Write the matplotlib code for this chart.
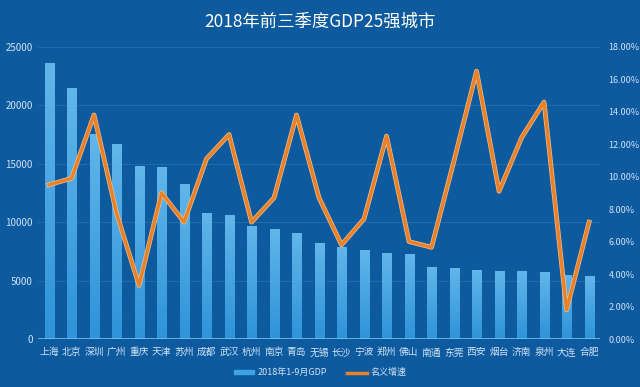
import matplotlib
matplotlib.use('Agg')
import matplotlib.pyplot as plt
import numpy as np

plt.rcParams['font.family'] = ['Noto Sans CJK SC', 'DejaVu Sans']

cities = ['上海', '北京', '深圳', '广州', '重庆', '天津', '苏州', '成都', '武汉', '杭州',
          '南京', '青岛', '无锡', '长沙', '宁波', '郑州', '佛山', '南通', '东莞', '西安',
          '烟台', '济南', '泉州', '大连', '合肥']
gdp = [23600, 21500, 17500, 16700, 14800, 14700, 13300, 10800, 10600, 9700,
       9450, 9050, 8200, 7900, 7600, 7350, 7300, 6200, 6050, 5900,
       5850, 5850, 5700, 5500, 5400]
growth = [9.5, 9.9, 13.8, 7.75, 3.3, 9.0, 7.2, 11.1, 12.6, 7.2,
          8.7, 13.8, 8.7, 5.8, 7.4, 12.5, 6.0, 5.65, 11.0, 16.5,
          9.1, 12.4, 14.6, 1.8, 7.2]

bg = '#0d5a9f'
txt = '#cfe3f5'

fig = plt.figure(figsize=(6.4, 3.87), dpi=100, facecolor=bg)
ax = fig.add_axes([0.059, 0.124, 0.879, 0.755], facecolor=bg)
x = np.arange(len(cities))

bars = ax.bar(x, gdp, width=0.4, color='none', zorder=2)
grad = np.linspace(0, 1, 256).reshape(-1, 1)
cmap = matplotlib.colors.LinearSegmentedColormap.from_list('g', ['#2e93d9', '#62b6ea'])
for b in bars:
    im = ax.imshow(grad, cmap=cmap, aspect='auto', origin='lower',
                   extent=[b.get_x(), b.get_x() + b.get_width(), 0, b.get_height()],
                   zorder=2)
    im.set_clip_path(b)

ax.set_xlim(-0.5, len(cities) - 0.5)
ax.set_ylim(0, 25000)
ax.set_yticks(np.arange(0, 25001, 5000))
ax.yaxis.grid(True, color='#3a7bb8', linewidth=0.6, alpha=0.6, zorder=0)
ax.set_axisbelow(True)
ax.set_xticks(x)
ax.set_xticklabels(cities)
ax.tick_params(axis='both', length=0, colors=txt, labelsize=7)
ax.tick_params(axis='x', pad=6)
for s in ax.spines.values():
    s.set_visible(False)
ax.axhline(0, color='#7cc8f0', linewidth=1.8, zorder=3)

ax2 = ax.twinx()
ax2.plot(x, growth, color='#f2c08c', linewidth=3.4, zorder=4, solid_joinstyle='round')
ax2.plot(x, growth, color='#e9812a', linewidth=2.4, zorder=5, solid_joinstyle='round')
ax2.set_ylim(0, 18)
ax2.set_yticks(np.arange(0, 18.1, 2))
ax2.set_yticklabels([f'{v:.2f}%' for v in np.arange(0, 18.1, 2)])
ax2.tick_params(axis='y', length=0, colors=txt, labelsize=6.5, pad=6)
for s in ax2.spines.values():
    s.set_visible(False)

fig.text(0.5, 0.945, '2018年前三季度GDP25强城市', color='white', fontsize=12.5,
         ha='center', va='center')

h1 = matplotlib.patches.Patch(color='#3ea3e2')
h2 = matplotlib.lines.Line2D([], [], color='#e9812a', linewidth=2.5)
leg = fig.legend([h1, h2], ['2018年1-9月GDP', '名义增速'], loc='center',
                 bbox_to_anchor=(0.5, 0.037), ncol=2, frameon=False, fontsize=6.5,
                 handlelength=2.2, handleheight=0.3, handletextpad=0.4, columnspacing=2.2)
for t in leg.get_texts():
    t.set_color(txt)

fig.savefig('out.png', dpi=100, facecolor=bg)
